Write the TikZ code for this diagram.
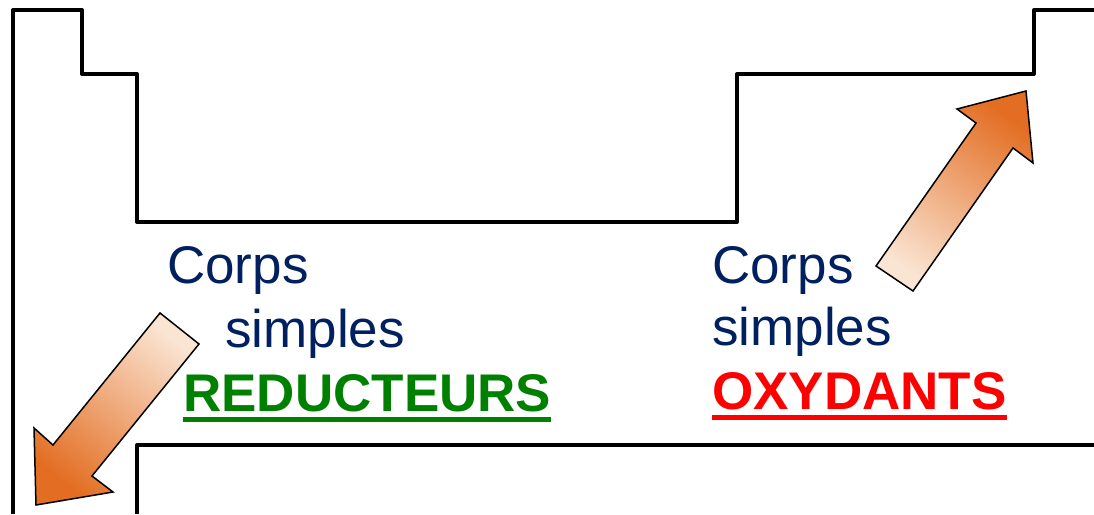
\documentclass[tikz,border=0pt]{standalone}
\usepackage{fontspec}
\setmainfont{Liberation Sans}

\definecolor{navy}{RGB}{0,32,96}
\definecolor{redgreen}{RGB}{0,128,0}
\definecolor{oxred}{RGB}{255,0,0}
\definecolor{arrowdark}{RGB}{227,110,35}
\definecolor{arrowmid}{RGB}{237,165,128}
\definecolor{arrowlight}{RGB}{250,228,210}

\tikzset{
  outline/.style={line width=4pt, line join=round},
  fatarrow/.style={draw=black, line width=1.5pt, line join=miter},
  txt/.style={inner sep=0pt, anchor=base west, font=\fontsize{53}{63}\selectfont},
  ulined/.style={line width=5pt}
}

\begin{document}
\begin{tikzpicture}[x=1pt,y=-1pt]
  \useasboundingbox (0,0) rectangle (1094,514);
  % table outline
  \draw[outline] (13,514) -- (13,10) -- (82,10) -- (82,74) -- (137,74) -- (137,222)
    -- (737,222) -- (737,74) -- (1034,74) -- (1034,10) -- (1094,10);
  \draw[outline] (1094,445) -- (137,445) -- (137,514);
  % arrows
  \shade[fatarrow, top color=arrowdark, middle color=arrowmid, bottom color=arrowlight, shading angle=-35]
    (876,266) -- (976,123) -- (957,109) -- (1026,91) -- (1033,163) -- (1013,148) -- (913,291) -- cycle;
  \shade[fatarrow, top color=arrowdark, middle color=arrowmid, bottom color=arrowlight, shading angle=141]
    (160,313) -- (53,445) -- (34,428) -- (36,505) -- (113,492) -- (92,476) -- (199,344) -- cycle;
  % left texts
  \node[txt, text=navy] (corpsL) at (167,283) {Corps};
  \node[txt, text=navy] (simplesL) at (225,347) {simples};
  \node[txt, text=redgreen, font=\fontsize{53}{63}\selectfont\bfseries] (reduc) at (183,411) {REDUCTEURS};
  \draw[ulined, redgreen] ([yshift=-8pt]reduc.base west) -- ([yshift=-8pt]reduc.base east);
  % right texts
  \node[txt, text=navy] (corpsR) at (712,283) {Corps};
  \node[txt, text=navy] (simplesR) at (712,345) {simples};
  \node[txt, text=oxred, font=\fontsize{53}{63}\selectfont\bfseries] (oxyd) at (712,409) {OXYDANTS};
  \draw[ulined, oxred] ([yshift=-8pt]oxyd.base west) -- ([yshift=-8pt]oxyd.base east);
\end{tikzpicture}
\end{document}
